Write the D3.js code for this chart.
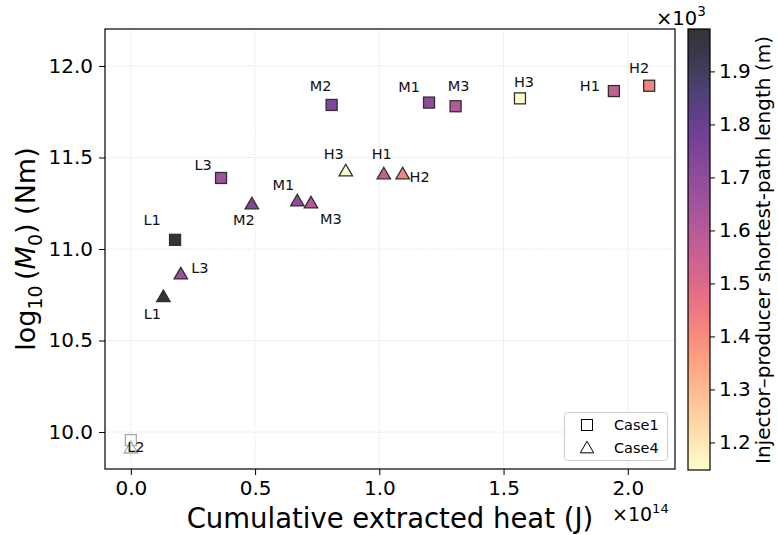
<!DOCTYPE html>
<html>
<head>
<meta charset="utf-8">
<script src="https://cdn.jsdelivr.net/npm/d3@7"></script>
<style>
  body { margin: 0; background: #fff; }
  svg { font-family: "DejaVu Sans", sans-serif; }
</style>
</head>
<body>
<svg id="chart" width="778" height="535"></svg>
<script>
// Well pairs and their results (heat in units of 1e14 J, moment as log10 Nm)
const wells = ["L1", "L2", "L3", "M1", "M2", "M3", "H1", "H2", "H3"];
const pathLength = [1980, null, 1660, 1700, 1740, 1600, 1560, 1420, 1150];
const case1Heat   = [0.178, 0.000, 0.363, 1.200, 0.808, 1.307, 1.944, 2.086, 1.566];
const case1Moment = [11.05, 9.956, 11.388, 11.80, 11.787, 11.78, 11.863, 11.892, 11.823];
const case4Heat   = [0.131, 0.000, 0.201, 0.670, 0.487, 0.725, 1.018, 1.094, 0.865];
const case4Moment = [10.739, 9.912, 10.863, 11.262, 11.246, 11.251, 11.41, 11.41, 11.426];
const xTicks = [0.0, 0.5, 1.0, 1.5, 2.0];
const yTicks = [10.0, 10.5, 11.0, 11.5, 12.0];
const cTicks = [1200, 1300, 1400, 1500, 1600, 1700, 1800, 1900];

// Label placement (dx, dy in px from marker centre)
const case1LabelOffset = [[-23, -20], [5, 7], [-18, -13], [-20, -16], [-11, -19], [3, -20], [-24, -5], [-10, -18], [4, -16]];
const case4LabelOffset = [[-11, 17], [5, 0], [19, -6], [-14, -16], [-8, 16], [20, 16], [-2, -20], [17, 3], [-12, -17]];

const svg = d3.select("#chart");
const plot = { left: 105, right: 675, top: 29, bottom: 469 };
const cbar = { left: 688, right: 710, top: 29, bottom: 470 };
const FS = 20;

const x = d3.scaleLinear().domain([-0.104, 2.19]).range([plot.left, plot.right]);
const y = d3.scaleLinear().domain([9.798, 12.202]).range([plot.bottom, plot.top]);
const cDomain = [1148, 1980];
const color = v => v == null ? null : d3.interpolateMagma(1 - (v - cDomain[0]) / (cDomain[1] - cDomain[0]));

// Grid
const grid = svg.append("g").attr("stroke", "#d0d0d0").attr("stroke-width", 0.8).attr("stroke-dasharray", "1,1.6");
grid.selectAll(".gx").data(xTicks).join("line")
  .attr("x1", d => x(d)).attr("x2", d => x(d)).attr("y1", plot.top).attr("y2", plot.bottom);
grid.selectAll(".gy").data(yTicks).join("line")
  .attr("y1", d => y(d)).attr("y2", d => y(d)).attr("x1", plot.left).attr("x2", plot.right);

// Axes
const xAxis = svg.append("g").attr("transform", `translate(0,${plot.bottom})`)
  .call(d3.axisBottom(x).tickValues(xTicks).tickFormat(d3.format(".1f")).tickSize(6).tickPadding(6));
const yAxis = svg.append("g").attr("transform", `translate(${plot.left},0)`)
  .call(d3.axisLeft(y).tickValues(yTicks).tickFormat(d3.format(".1f")).tickSize(6).tickPadding(6));
[xAxis, yAxis].forEach(a => {
  a.select(".domain").remove();
  a.selectAll("line").attr("stroke", "#000").attr("stroke-width", 1);
  a.selectAll("text").attr("font-size", FS).attr("fill", "#000").attr("font-family", "DejaVu Sans");
});

svg.append("rect").attr("x", plot.left).attr("y", plot.top)
  .attr("width", plot.right - plot.left).attr("height", plot.bottom - plot.top)
  .attr("fill", "none").attr("stroke", "#000").attr("stroke-width", 1.2);

// Axis labels
svg.append("text").attr("x", (plot.left + plot.right) / 2).attr("y", 528)
  .attr("text-anchor", "middle").attr("font-size", 27.5).text("Cumulative extracted heat (J)");
const xo = svg.append("text").attr("x", 612).attr("y", 521).attr("font-size", 19);
xo.append("tspan").text("×10");
xo.append("tspan").attr("font-size", 13).attr("dy", -8).text("14");

const yl = svg.append("text").attr("transform", `translate(35,${(plot.top + plot.bottom) / 2}) rotate(-90)`)
  .attr("text-anchor", "middle").attr("font-size", 27);
yl.append("tspan").text("log");
yl.append("tspan").attr("font-size", 19).attr("dy", 7).text("10");
yl.append("tspan").attr("dy", -7).text("\u2009(");
yl.append("tspan").attr("font-style", "italic").text("M");
yl.append("tspan").attr("font-size", 19).attr("dy", 7).text("0");
yl.append("tspan").attr("dy", -7).text(") (Nm)");

// Markers
const edge = "#2f2f2f";
const tri = d3.symbol().type(d3.symbolTriangle).size(78);
const markers = svg.append("g");

function drawCase(heat, moment, shape) {
  const pts = wells.map((w, i) => ({ w, i, xv: heat[i], yv: moment[i], c: color(pathLength[i]) }));
  const g = markers.append("g");
  if (shape === "square") {
    g.selectAll("rect").data(pts).join("rect")
      .attr("x", d => x(d.xv) - 5.5).attr("y", d => y(d.yv) - 5.5)
      .attr("width", 11).attr("height", 11)
      .attr("fill", d => d.c || "#fff").attr("fill-opacity", d => d.c ? 0.8 : 0.5)
      .attr("stroke", d => d.c ? edge : "#aaa").attr("stroke-width", 1.3);
  } else {
    g.selectAll("path").data(pts).join("path")
      .attr("transform", d => `translate(${x(d.xv)},${y(d.yv) + 1})`)
      .attr("d", tri)
      .attr("fill", d => d.c || "#fff").attr("fill-opacity", d => d.c ? 0.8 : 0.5)
      .attr("stroke", d => d.c ? edge : "#aaa").attr("stroke-width", 1.3);
  }
  return pts;
}
const p1 = drawCase(case1Heat, case1Moment, "square");
const p4 = drawCase(case4Heat, case4Moment, "triangle");

// Point labels
function labelCase(pts, offsets) {
  svg.append("g").selectAll("text").data(pts).join("text")
    .attr("x", d => x(d.xv) + offsets[d.i][0])
    .attr("y", d => y(d.yv) + offsets[d.i][1])
    .attr("text-anchor", "middle").attr("dominant-baseline", "central")
    .attr("font-size", 14.5).attr("fill", "#111").text(d => d.w);
}
labelCase(p1, case1LabelOffset);
labelCase(p4.filter(d => d.w !== "L2"), case4LabelOffset);

// Legend
const lg = svg.append("g");
lg.append("rect").attr("x", 564.5).attr("y", 412.5).attr("width", 103).attr("height", 48).attr("rx", 3)
  .attr("fill", "#fff").attr("fill-opacity", 0.8).attr("stroke", "#ccc");
lg.append("rect").attr("x", 581.5).attr("y", 419.5).attr("width", 11).attr("height", 11)
  .attr("fill", "none").attr("stroke", "#000").attr("stroke-width", 1);
lg.append("path").attr("transform", "translate(587,449)").attr("d", tri)
  .attr("fill", "none").attr("stroke", "#000").attr("stroke-width", 1);
lg.append("text").attr("x", 614).attr("y", 430).attr("font-size", 14.5).text("Case1");
lg.append("text").attr("x", 614).attr("y", 453).attr("font-size", 14.5).text("Case4");

// Colorbar
const defs = svg.append("defs");
const grad = defs.append("linearGradient").attr("id", "cb").attr("x1", 0).attr("x2", 0).attr("y1", 1).attr("y2", 0);
d3.range(0, 1.0001, 0.05).forEach(t => {
  grad.append("stop").attr("offset", t).attr("stop-color", d3.interpolateMagma(1 - t));
});
svg.append("rect").attr("x", cbar.left).attr("y", cbar.top)
  .attr("width", cbar.right - cbar.left).attr("height", cbar.bottom - cbar.top)
  .attr("fill", "url(#cb)").attr("fill-opacity", 0.8);
svg.append("rect").attr("x", cbar.left).attr("y", cbar.top)
  .attr("width", cbar.right - cbar.left).attr("height", cbar.bottom - cbar.top)
  .attr("fill", "none").attr("stroke", "#000").attr("stroke-width", 1.2);
const cy = d3.scaleLinear().domain(cDomain).range([cbar.bottom, cbar.top]);
const cAxis = svg.append("g").attr("transform", `translate(${cbar.right},0)`)
  .call(d3.axisRight(cy).tickValues(cTicks).tickFormat(d => (d / 1000).toFixed(1)).tickSize(5).tickPadding(4));
cAxis.select(".domain").remove();
cAxis.selectAll("line").attr("stroke", "#000");
cAxis.selectAll("text").attr("font-size", FS).attr("fill", "#000").attr("font-family", "DejaVu Sans");
const co = svg.append("text").attr("x", 656).attr("y", 25).attr("font-size", 19.5);
co.append("tspan").text("×10");
co.append("tspan").attr("font-size", 13.5).attr("dy", -9).text("3");

svg.append("text").attr("transform", `translate(770,250) rotate(-90)`)
  .attr("text-anchor", "middle").attr("font-size", 20)
  .text("Injector\u2013producer shortest-path length (m)");
</script>
</body>
</html>
